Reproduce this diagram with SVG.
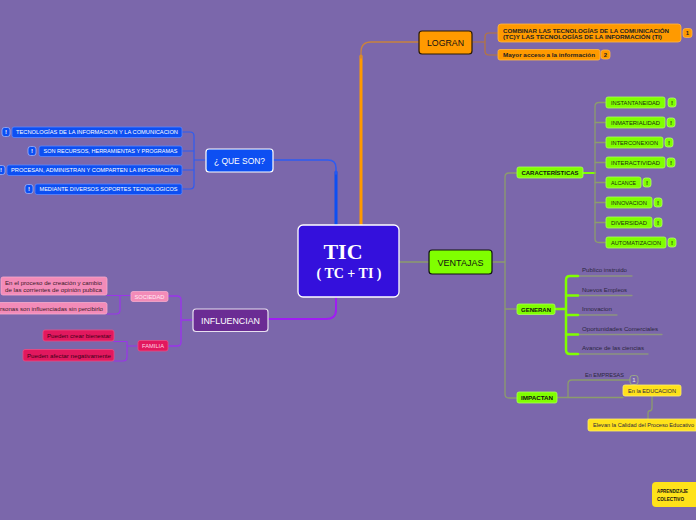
<svg xmlns="http://www.w3.org/2000/svg" width="696" height="520" viewBox="0 0 696 520">
<style>
text{font-family:"Liberation Sans","DejaVu Sans",Arial,sans-serif}
.c{fill:none;stroke-linecap:round;stroke-linejoin:round}
.s{font-size:5.5px}
.b{font-weight:bold}
.m{text-anchor:middle}
.blue{fill:#0D4FF2;stroke:#5C86FF;stroke-width:0.8}
.bbadge{fill:#0D4FF2;stroke:#9DB4FF;stroke-width:0.8}
.gr{fill:#80FF00;stroke:#A8FF55;stroke-width:0.8}
.gbadge{fill:#80FF00;stroke:#B6FF70;stroke-width:0.8}
.ob{fill:#FF9A00;stroke:#FFB648;stroke-width:0.8}
.yl{fill:#FFE21A;stroke:#FFEE70;stroke-width:0.8}
.pk{fill:#F38BB8;stroke:#F8A9CC;stroke-width:0.8}
.rd{fill:#E2185E;stroke:#EC4D84;stroke-width:0.8}
.dk{fill:#1F2B10}
.tx{fill:#2B2640;font-size:5.8px}
</style>
<rect width="696" height="520" fill="#7B67AB"/>

<g id="connectors">
  <path class="c" d="M336,225 V172" stroke="#0D4FF2" stroke-width="3"/>
  <path class="c" d="M336,174 V168 Q336,160 328,160 H273" stroke="#2D5CF2" stroke-width="1.5"/>
  <path class="c" d="M361,225 V56" stroke="#FF9900" stroke-width="3"/>
  <path class="c" d="M361,58 V52 Q361,42 371,42 H419" stroke="#C8823E" stroke-width="1.3"/>
  <path class="c" d="M336,297 V310 Q336,319 326,319 H268" stroke="#A01CF2" stroke-width="2"/>
  <path class="c" d="M399,262 H429" stroke="#8C9C6C" stroke-width="1.5"/>
  <path class="c" d="M206,160 H194 M182,132 H190 Q194,132 194,136 V185 Q194,189 190,189 H182 M182,151 H194 M182,170 H194" stroke="#2D5CF2" stroke-width="1.2"/>
  <path class="c" d="M472,42 H485 M498,33 H489 Q485,33 485,37 V51 Q485,55 489,55 H498" stroke="#B8763A" stroke-width="1.2"/>
  <path class="c" d="M492,262 H505 M517,173 H509 Q505,173 505,177 V394 Q505,398 509,398 H517 M505,309 H517" stroke="#8C9C6C" stroke-width="1.3"/>
  <path class="c" d="M583,173 H595" stroke="#80FF00" stroke-width="2"/>
  <path class="c" d="M606,102.5 H599 Q595,102.5 595,106.5 V238.5 Q595,242.5 599,242.5 H606 M595,122.5 H606 M595,142.5 H606 M595,162.5 H606 M595,182.5 H606 M595,202.5 H606 M595,222.5 H606" stroke="#8C9C6C" stroke-width="1.3"/>
  <path class="c" d="M578,276 H632 M578,295.5 H632 M578,315 H617 M578,334.5 H662 M578,354 H648" stroke="#8C9480" stroke-width="1.3"/>
  <path class="c" d="M555,309 H566 M578,276 H570 Q566,276 566,280 V350 Q566,354 570,354 H578 M566,295.5 H578 M566,315 H578 M566,334.5 H578" stroke="#80FF00" stroke-width="2.5"/>
  <path class="c" d="M557,397.5 H623 M568,397.5 V384 Q568,380 572,380 H630" stroke="#8C9C6C" stroke-width="1.3"/>
  <path class="c" d="M652,396 V408 Q652,411 649,411 Q648,411 648,414 V419" stroke="#8C9C6C" stroke-width="1.3"/>
  <path class="c" d="M193,320 H181 M168,296 H177 Q181,296 181,300 V342 Q181,346 177,346 H168" stroke="#9A35EA" stroke-width="1.4"/>
  <path class="c" d="M131,295.5 H107 M120,295.5 V310 Q120,314 116,314 H107" stroke="#9A35EA" stroke-width="1.2"/>
  <path class="c" d="M138,346 H127 M114,341.5 H127 V357 Q127,361 123,361 H114" stroke="#9A35EA" stroke-width="1.2"/>
</g>

<g id="tic">
  <rect x="298" y="225" width="101" height="72" rx="5" fill="#3410DC" stroke="#FFFFFF" stroke-width="1.3"/>
  <text x="343" y="258.5" class="m b" style="font-family:'Liberation Serif',serif" font-size="22" fill="#FFFFFF">TIC</text>
  <text x="349" y="278" class="m b" style="font-family:'Liberation Serif',serif" font-size="14" fill="#FFFFFF">( TC + TI )</text>
</g>

<g id="que-son">
  <rect x="206" y="149" width="67" height="23" rx="3" fill="#0D4FF2" stroke="#FFFFFF" stroke-width="1.2"/>
  <text x="239.5" y="164" class="m" font-size="9.5" fill="#FFFFFF" textLength="51" lengthAdjust="spacingAndGlyphs">¿ QUE SON?</text>
</g>
<g id="qs-1">
  <rect x="12" y="127" width="170" height="10.5" rx="2" class="blue"/>
  <text x="97" y="134.4" class="m s" fill="#FFFFFF" textLength="162" lengthAdjust="spacingAndGlyphs">TECNOLOGÍAS DE LA INFORMACION Y LA COMUNICACION</text>
  <rect x="2" y="127.5" width="8" height="9" rx="2.5" class="bbadge"/>
  <text x="6" y="134.3" class="m b" font-size="6" fill="#FFFFFF">!</text>
</g>
<g id="qs-2">
  <rect x="39" y="146" width="143" height="10.5" rx="2" class="blue"/>
  <text x="110.5" y="153.4" class="m s" fill="#FFFFFF" textLength="134" lengthAdjust="spacingAndGlyphs">SON RECURSOS, HERRAMIENTAS Y PROGRAMAS</text>
  <rect x="28" y="146.5" width="8" height="9" rx="2.5" class="bbadge"/>
  <text x="32" y="153.3" class="m b" font-size="6" fill="#FFFFFF">!</text>
</g>
<g id="qs-3">
  <rect x="7" y="165" width="175" height="10.5" rx="2" class="blue"/>
  <text x="94.5" y="172.4" class="m s" fill="#FFFFFF" textLength="167" lengthAdjust="spacingAndGlyphs">PROCESAN, ADMINISTRAN Y COMPARTEN LA INFORMACIÓN</text>
  <rect x="-3" y="165.5" width="8" height="9" rx="2.5" class="bbadge"/>
  <text x="1" y="172.3" class="m b" font-size="6" fill="#FFFFFF">!</text>
</g>
<g id="qs-4">
  <rect x="35" y="184" width="147" height="10.5" rx="2" class="blue"/>
  <text x="108.5" y="191.4" class="m s" fill="#FFFFFF" textLength="138" lengthAdjust="spacingAndGlyphs">MEDIANTE DIVERSOS SOPORTES TECNOLOGICOS</text>
  <rect x="25" y="184.5" width="8" height="9" rx="2.5" class="bbadge"/>
  <text x="29" y="191.3" class="m b" font-size="6" fill="#FFFFFF">!</text>
</g>

<g id="lograr">
  <rect x="419" y="31" width="53" height="23" rx="3" fill="#FF9A00" stroke="#2A1A00" stroke-width="1.2"/>
  <text x="445.5" y="46" class="m" font-size="9" fill="#111111" textLength="37" lengthAdjust="spacingAndGlyphs">LOGRAN</text>
</g>
<g id="logran-1">
  <rect x="498" y="24" width="183" height="18" rx="3" class="ob"/>
  <text x="503" y="32.5" class="s b" fill="#222222" textLength="166" lengthAdjust="spacingAndGlyphs">COMBINAR LAS TECNOLOGÍAS DE LA COMUNICACIÓN</text>
  <text x="503" y="39" class="s b" fill="#222222" textLength="159" lengthAdjust="spacingAndGlyphs">(TC)Y LAS TECNOLOGÍAS DE LA INFORMACIÓN (TI)</text>
  <rect x="683" y="28.5" width="9" height="9" rx="2.5" class="ob"/>
  <text x="687.5" y="35.2" class="m b" font-size="6" fill="#222222">1</text>
</g>
<g id="logran-2">
  <rect x="498" y="49.5" width="102" height="10.5" rx="2" class="ob"/>
  <text x="503" y="57" class="s b" fill="#222222" textLength="92" lengthAdjust="spacingAndGlyphs">Mayor acceso a la información</text>
  <rect x="601" y="50" width="9" height="9" rx="2.5" class="ob"/>
  <text x="605.5" y="56.8" class="m b" font-size="6" fill="#222222">2</text>
</g>

<g id="ventajas">
  <rect x="429" y="250" width="63" height="24" rx="3" fill="#80FF00" stroke="#111111" stroke-width="1.2"/>
  <text x="460.5" y="265.5" class="m" font-size="9.5" fill="#111111" textLength="46" lengthAdjust="spacingAndGlyphs">VENTAJAS</text>
</g>

<g id="caracteristicas">
  <rect x="517" y="167" width="66" height="11" rx="2" class="gr"/>
  <text x="550" y="174.6" class="m s b" fill="#111111" textLength="57" lengthAdjust="spacingAndGlyphs">CARACTERÍSTICAS</text>
</g>
<g id="car-1"><rect x="606" y="97" width="59" height="11" rx="2" class="gr"/><text x="611" y="104.6" class="s dk" textLength="49" lengthAdjust="spacingAndGlyphs">INSTANTANEIDAD</text><rect x="668" y="98" width="8" height="9" rx="2.5" class="gbadge"/><text x="672" y="104.8" class="m b dk" font-size="6">!</text></g>
<g id="car-2"><rect x="606" y="117" width="59" height="11" rx="2" class="gr"/><text x="611" y="124.6" class="s dk" textLength="49" lengthAdjust="spacingAndGlyphs">INMATERIALIDAD</text><rect x="667" y="118" width="8" height="9" rx="2.5" class="gbadge"/><text x="671" y="124.8" class="m b dk" font-size="6">!</text></g>
<g id="car-3"><rect x="606" y="137" width="57" height="11" rx="2" class="gr"/><text x="611" y="144.6" class="s dk" textLength="47" lengthAdjust="spacingAndGlyphs">INTERCONEXION</text><rect x="665" y="138" width="8" height="9" rx="2.5" class="gbadge"/><text x="669" y="144.8" class="m b dk" font-size="6">!</text></g>
<g id="car-4"><rect x="606" y="157" width="59" height="11" rx="2" class="gr"/><text x="611" y="164.6" class="s dk" textLength="49" lengthAdjust="spacingAndGlyphs">INTERACTIVIDAD</text><rect x="667" y="158" width="8" height="9" rx="2.5" class="gbadge"/><text x="671" y="164.8" class="m b dk" font-size="6">!</text></g>
<g id="car-5"><rect x="606" y="177" width="35" height="11" rx="2" class="gr"/><text x="611" y="184.6" class="s dk" textLength="25" lengthAdjust="spacingAndGlyphs">ALCANCE</text><rect x="643" y="178" width="8" height="9" rx="2.5" class="gbadge"/><text x="647" y="184.8" class="m b dk" font-size="6">!</text></g>
<g id="car-6"><rect x="606" y="197" width="46" height="11" rx="2" class="gr"/><text x="611" y="204.6" class="s dk" textLength="36" lengthAdjust="spacingAndGlyphs">INNOVACION</text><rect x="654" y="198" width="8" height="9" rx="2.5" class="gbadge"/><text x="658" y="204.8" class="m b dk" font-size="6">!</text></g>
<g id="car-7"><rect x="606" y="217" width="46" height="11" rx="2" class="gr"/><text x="611" y="224.6" class="s dk" textLength="36" lengthAdjust="spacingAndGlyphs">DIVERSIDAD</text><rect x="654" y="218" width="8" height="9" rx="2.5" class="gbadge"/><text x="658" y="224.8" class="m b dk" font-size="6">!</text></g>
<g id="car-8"><rect x="606" y="237" width="60" height="11" rx="2" class="gr"/><text x="611" y="244.6" class="s dk" textLength="50" lengthAdjust="spacingAndGlyphs">AUTOMATIZACION</text><rect x="668" y="238" width="8" height="9" rx="2.5" class="gbadge"/><text x="672" y="244.8" class="m b dk" font-size="6">!</text></g>

<g id="generan">
  <rect x="517" y="304" width="38" height="10.5" rx="2" class="gr"/>
  <text x="536" y="311.5" class="m s b" fill="#111111" textLength="30" lengthAdjust="spacingAndGlyphs">GENERAN</text>
</g>
<g id="gen-1"><text x="582" y="272" class="tx" textLength="45" lengthAdjust="spacingAndGlyphs">Publico instruido</text></g>
<g id="gen-2"><text x="582" y="291.5" class="tx" textLength="45" lengthAdjust="spacingAndGlyphs">Nuevos Empleos</text></g>
<g id="gen-3"><text x="582" y="311" class="tx" textLength="30" lengthAdjust="spacingAndGlyphs">Innovacion</text></g>
<g id="gen-4"><text x="582" y="330.5" class="tx" textLength="76" lengthAdjust="spacingAndGlyphs">Oportunidades Comerciales</text></g>
<g id="gen-5"><text x="582" y="350" class="tx" textLength="62" lengthAdjust="spacingAndGlyphs">Avance de las ciencias</text></g>

<g id="impactan">
  <rect x="517" y="392" width="40" height="11" rx="2" class="gr"/>
  <text x="537" y="399.6" class="m s b" fill="#111111" textLength="32" lengthAdjust="spacingAndGlyphs">IMPACTAN</text>
</g>
<g id="imp-empresas">
  <text x="585" y="377" class="tx" textLength="39" lengthAdjust="spacingAndGlyphs">En EMPRESAS</text>
  <rect x="630" y="375.5" width="8" height="9" rx="2.5" fill="#7B67AB" stroke="#9CB080" stroke-width="0.9"/>
  <text x="634" y="382.2" class="m" font-size="6" fill="#E8E8E8">1</text>
</g>
<g id="imp-educacion">
  <rect x="623" y="385" width="58" height="11" rx="2" class="yl"/>
  <text x="628" y="392.6" class="tx" textLength="48" lengthAdjust="spacingAndGlyphs">En la EDUCACION</text>
</g>
<g id="elevan">
  <path d="M590,419 H696 V431 H590 Q588,431 588,429 V421 Q588,419 590,419 Z" class="yl"/>
  <text x="593" y="427.3" class="tx" textLength="101" lengthAdjust="spacingAndGlyphs">Elevan la Calidad del Proceso Educativo</text>
</g>
<g id="aprendizaje">
  <path d="M656,482 H696 V507 H656 Q652,507 652,503 V486 Q652,482 656,482 Z" fill="#FFE21A"/>
  <text x="657" y="492.5" class="s b" fill="#111111" textLength="31" lengthAdjust="spacingAndGlyphs">APRENDIZAJE</text>
  <text x="657" y="501" class="s b" fill="#111111" textLength="27" lengthAdjust="spacingAndGlyphs">COLECTIVO</text>
</g>

<g id="influencian">
  <rect x="193" y="309" width="75" height="22.5" rx="3" fill="#6B2C94" stroke="#E8E0F0" stroke-width="1.2"/>
  <text x="230.5" y="324" class="m" font-size="9.5" fill="#FFFFFF" textLength="59" lengthAdjust="spacingAndGlyphs">INFLUENCIAN</text>
</g>
<g id="sociedad">
  <rect x="131" y="291.5" width="37" height="10" rx="2" class="pk"/>
  <text x="149.5" y="298.6" class="m s" fill="#FFE8F2" textLength="30" lengthAdjust="spacingAndGlyphs">SOCIEDAD</text>
</g>
<g id="soc-1">
  <rect x="1" y="277" width="106" height="18" rx="2" class="pk"/>
  <text x="5" y="285" class="s" fill="#3A1A2A" textLength="97" lengthAdjust="spacingAndGlyphs">En el proceso de creación y cambio</text>
  <text x="5" y="292" class="s" fill="#3A1A2A" textLength="97" lengthAdjust="spacingAndGlyphs">de las corrientes de opinión publica</text>
</g>
<g id="soc-2">
  <rect x="-6" y="302.5" width="113" height="11.5" rx="2" class="pk"/>
  <text x="103" y="310.6" class="s" text-anchor="end" fill="#3A1A2A" textLength="103" lengthAdjust="spacingAndGlyphs">rsonas son influenciadas sin percibirlo</text>
</g>
<g id="familia">
  <rect x="138" y="340.5" width="30" height="10.5" rx="2" class="rd"/>
  <text x="153" y="347.9" class="m s" fill="#FFD4E2" textLength="22" lengthAdjust="spacingAndGlyphs">FAMILIA</text>
</g>
<g id="fam-1">
  <rect x="43" y="330" width="71" height="11" rx="2" class="rd"/>
  <text x="47" y="337.6" class="s" fill="#3A0016" textLength="64" lengthAdjust="spacingAndGlyphs">Pueden crear bienestar</text>
</g>
<g id="fam-2">
  <rect x="23" y="349.5" width="91" height="11.5" rx="2" class="rd"/>
  <text x="27" y="357.6" class="s" fill="#3A0016" textLength="84" lengthAdjust="spacingAndGlyphs">Pueden afectar negativamente</text>
</g>
</svg>
